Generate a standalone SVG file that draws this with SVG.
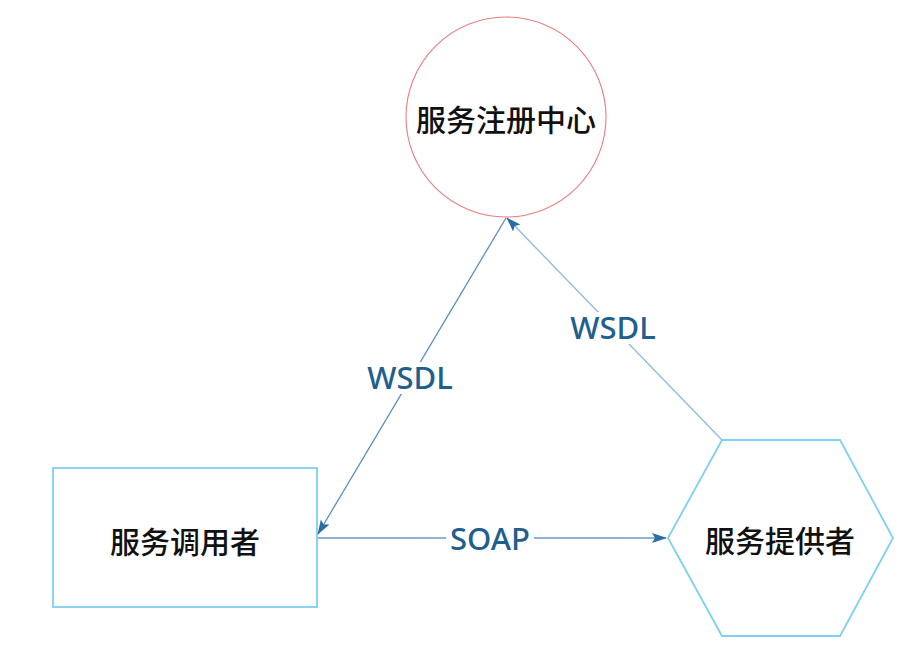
<svg xmlns="http://www.w3.org/2000/svg" width="908" height="653" viewBox="0 0 908 653">
  <style>
    .node-cjk { font-family: "Noto Sans CJK SC", "Noto Sans", sans-serif; font-size: 30px; font-weight: 500; fill: #111; text-anchor: middle; dominant-baseline: central; }
    .lbl { font-family: "Noto Sans", "Open Sans", sans-serif; font-size: 31px; font-weight: 500; fill: #1f5f8e; text-anchor: middle; }
    .edge { fill: none; stroke-width: 1.3; }
    .blue-shape { fill: #fff; stroke: #7fd0f2; stroke-width: 1.8; }
  </style>
  <defs>
    <marker id="arrow" markerUnits="userSpaceOnUse" markerWidth="15" markerHeight="12" refX="14" refY="5" orient="auto" viewBox="0 0 15 10">
      <path d="M0,0 L15,5 L0,10 L3,5 z" fill="#2a6ea6"/>
    </marker>
  </defs>

  <rect width="908" height="653" fill="#fff"/>

  <g id="node-registry">
    <circle cx="506" cy="117" r="100" fill="#fff" stroke="#ec7d84" stroke-width="1.1"/>
    <text class="node-cjk" x="506" y="118">服务注册中心</text>
  </g>

  <g id="node-consumer">
    <rect class="blue-shape" x="53" y="468" width="264" height="139"/>
    <text class="node-cjk" x="185" y="540">服务调用者</text>
  </g>

  <g id="node-provider">
    <polygon class="blue-shape" points="722,440 840,440 893,538 840,636 722,636 668,538"/>
    <text class="node-cjk" x="780" y="539">服务提供者</text>
  </g>

  <g id="connectors">
    <line class="edge" x1="506" y1="218" x2="318" y2="534" stroke="#5b8fc0" marker-end="url(#arrow)"/>
    <line class="edge" x1="722" y1="440" x2="507" y2="218" stroke="#8fb9dc" marker-end="url(#arrow)"/>
    <line class="edge" x1="318" y1="538" x2="666" y2="538" stroke="#6a9cc8" marker-end="url(#arrow)"/>

    <rect x="366" y="362" width="88" height="32" fill="#fff"/>
    <text class="lbl" x="410" y="389">WSDL</text>
    <rect x="569" y="312" width="88" height="32" fill="#fff"/>
    <text class="lbl" x="613" y="339">WSDL</text>
    <rect x="446" y="522" width="88" height="34" fill="#fff"/>
    <text class="lbl" x="490" y="550">SOAP</text>
  </g>
</svg>
